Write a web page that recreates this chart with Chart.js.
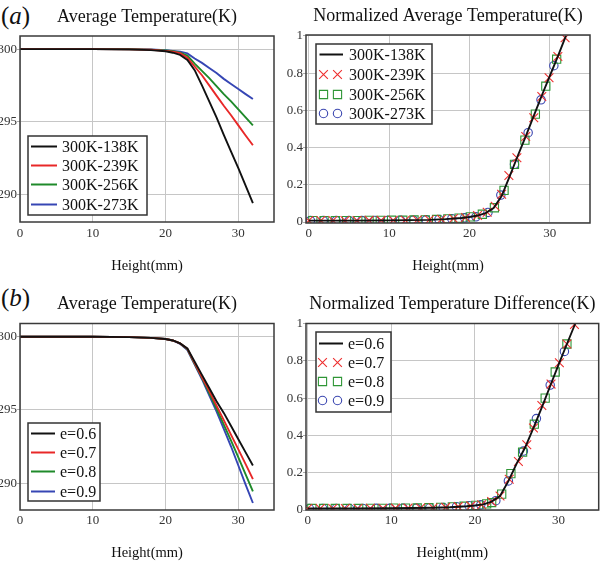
<!DOCTYPE html>
<html><head><meta charset="utf-8">
<script src="https://cdn.jsdelivr.net/npm/chart.js@4/dist/chart.umd.min.js"></script>
<style>
html,body{margin:0;padding:0;background:#fff;width:606px;height:562px;overflow:hidden}
.c{position:absolute}
.lab{position:absolute;font-family:'Liberation Serif','Times New Roman',serif;font-size:25px;color:#111;line-height:1}
</style></head><body>
<div class="lab" style="left:1px;top:3px">(<i>a</i>)</div>
<div class="lab" style="left:1px;top:285px">(<i>b</i>)</div>
<canvas id="cTL" class="c" width="303" height="281" style="left:0;top:0"></canvas>
<canvas id="cTR" class="c" width="326" height="281" style="left:280px;top:0"></canvas>
<canvas id="cBL" class="c" width="303" height="281" style="left:0;top:281px"></canvas>
<canvas id="cBR" class="c" width="326" height="281" style="left:280px;top:281px"></canvas>
<script>
// ---------- data ----------
const xTickVals = [0, 10, 20, 30];
const xTickLabels = ['0', '10', '20', '30'];
const tempTickVals = [290, 295, 300];
const tempTickLabels = ['290', '295', '300'];
const normTickVals = [0, 0.2, 0.4, 0.6, 0.8, 1];
const normTickLabels = ['0', '0.2', '0.4', '0.6', '0.8', '1'];

// (a) average temperature
const heightA = [0,5,10,15,18,20,21,22,23,24,25,26,27,28,29,30,31,32];
const avgT_138 = [300,300,300,299.98,299.93,299.85,299.75,299.6,299.25,298.55,297.5,296.4,295.3,294.1,292.95,291.8,290.6,289.4];
const avgT_239 = [300,300,300,299.98,299.95,299.88,299.82,299.72,299.4,298.8,298.2,297.5,296.8,296.1,295.45,294.75,294.05,293.38];
const avgT_256 = [300,300,300,299.99,299.96,299.9,299.85,299.76,299.55,299.0,298.5,298.0,297.45,296.9,296.4,295.85,295.3,294.75];
const avgT_273 = [300,300,300,299.99,299.97,299.92,299.88,299.82,299.7,299.35,299.05,298.7,298.35,297.95,297.6,297.25,296.9,296.56];

// (a) normalized average temperature
const normXA = [0,5,10,15,17,19,20,21,22,23,24,25,26,27,28,29,30,31,32];
const normA_138 = [0.008,0.008,0.009,0.012,0.016,0.022,0.027,0.035,0.048,0.075,0.14,0.245,0.355,0.46,0.57,0.68,0.785,0.89,1.0];
const mkXA_239 = [0,1.5,3,4.5,6,7.5,9,10.5,12,13.5,15,16.5,18,19.5,21,22.2,23.2,24.0,24.9,25.9,27.0,28.0,29.0,29.9,31.0,31.9];
const mkYA_239 = [0.008,0.008,0.008,0.008,0.008,0.009,0.009,0.01,0.01,0.011,0.012,0.015,0.019,0.024,0.035,0.053,0.085,0.15,0.25,0.345,0.46,0.56,0.675,0.775,0.89,0.99];
const mkXA_256 = [0.5,1.9,3.3,4.7,6.1,7.5,8.9,10.3,11.7,13.1,14.5,15.9,17.3,18.7,20.1,21.6,23.1,24.3,25.6,26.9,28.2,29.5,30.85];
const mkYA_256 = [0.008,0.008,0.008,0.008,0.008,0.009,0.009,0.01,0.01,0.011,0.012,0.014,0.017,0.021,0.028,0.042,0.077,0.17,0.31,0.44,0.58,0.73,0.875];
const mkXA_273 = [0.2,1.8,3.4,5.0,6.6,8.2,9.8,11.4,13.0,14.6,16.2,17.8,19.4,20.8,22.3,23.9,25.6,27.3,28.9,30.5];
const mkYA_273 = [0.008,0.008,0.008,0.008,0.008,0.009,0.009,0.01,0.01,0.012,0.014,0.018,0.023,0.028,0.052,0.145,0.31,0.48,0.657,0.84];

// (b) average temperature
const heightB = [0,5,10,15,18,20,21,22,23,24,25,26,27,28,29,30,31,32];
const avgE_06 = [300,300,300,299.98,299.93,299.85,299.75,299.55,299.2,298.3,297.4,296.5,295.6,294.8,293.9,293.0,292.1,291.2];
const avgE_07 = [300,300,300,299.98,299.93,299.85,299.75,299.55,299.18,298.2,297.25,296.3,295.3,294.3,293.3,292.3,291.3,290.27];
const avgE_08 = [300,300,300,299.98,299.93,299.85,299.75,299.55,299.15,298.15,297.2,296.15,295.1,294.0,292.9,291.75,290.6,289.43];
const avgE_09 = [300,300,300,299.98,299.93,299.85,299.75,299.52,299.1,298.1,297.1,296.0,294.9,293.7,292.5,291.2,289.9,288.64];

// (b) normalized temperature difference
const normXB = [0,5,10,15,17,19,20,21,22,23,24,25,26,27,28,29,30,31,32];
const normB_06 = [0.008,0.008,0.009,0.012,0.015,0.02,0.024,0.03,0.045,0.075,0.155,0.25,0.335,0.44,0.55,0.665,0.78,0.89,1.0];
const mkXB_07 = [0,1.5,3,4.5,6,7.5,9,10.5,12,13.5,15,16.5,18,19.5,20.8,22.0,23.0,24.1,25.2,26.2,27.0,28.0,29.1,30.1,31.0,31.9];
const mkYB_07 = [0.008,0.008,0.008,0.008,0.008,0.009,0.009,0.01,0.01,0.011,0.012,0.014,0.018,0.022,0.028,0.045,0.075,0.165,0.26,0.35,0.44,0.56,0.675,0.79,0.89,0.995];
const mkXB_08 = [0.5,1.9,3.3,4.7,6.1,7.5,8.9,10.3,11.7,13.1,14.5,15.9,17.3,18.7,20.1,21.4,22.0,23.2,24.3,25.7,27.1,28.4,29.6,31.0];
const mkYB_08 = [0.008,0.008,0.008,0.008,0.008,0.009,0.009,0.01,0.01,0.011,0.012,0.014,0.017,0.02,0.025,0.033,0.04,0.085,0.195,0.31,0.46,0.6,0.74,0.89];
const mkXB_09 = [0.2,1.8,3.4,5.0,6.6,8.2,9.8,11.4,13.0,14.6,16.2,17.8,19.3,20.7,22.5,24.0,25.8,27.35,29.0,30.7];
const mkYB_09 = [0.008,0.008,0.008,0.008,0.008,0.009,0.009,0.01,0.01,0.012,0.014,0.018,0.023,0.028,0.05,0.156,0.316,0.49,0.67,0.85];

const seriesNamesA = ['300K-138K', '300K-239K', '300K-256K', '300K-273K'];
const seriesNamesB = ['e=0.6', 'e=0.7', 'e=0.8', 'e=0.9'];

// ---------- style ----------
const BLACK = '#111111', RED = '#e82828', GREEN = '#1f8a2a', BLUE = '#3646b4';
const MRED = '#ee3030', MGREEN = '#2f9636', MBLUE = '#3a46b0';
const SERIF = "'Liberation Serif','Times New Roman',serif";
Chart.defaults.font.family = SERIF;
Chart.defaults.color = '#333';

const pts = (xs, ys) => xs.map((x, i) => ({x: x, y: ys[i]}));

const framePlugin = {
  id: 'frame',
  afterDatasetsDraw(chart) {
    const {ctx, chartArea: a} = chart;
    ctx.save();
    ctx.strokeStyle = '#3a3a3a';
    ctx.lineWidth = 1.5;
    ctx.strokeRect(a.left, a.top, a.right - a.left, a.bottom - a.top);
    ctx.restore();
  }
};

const boxLegend = {
  id: 'boxLegend',
  afterDraw(chart, args, o) {
    const {ctx, chartArea: a} = chart;
    const left = Math.round(a.left + o.dx);
    const top = Math.round(o.anchor === 'bl' ? a.bottom - o.dy - o.h : a.top + o.dy);
    ctx.save();
    ctx.fillStyle = '#ffffff';
    ctx.fillRect(left, top, o.w, o.h);
    ctx.strokeStyle = '#333';
    ctx.lineWidth = 1.5;
    ctx.strokeRect(left, top, o.w, o.h);
    chart.data.datasets.forEach((ds, i) => {
      const y = Math.round(top + o.first + i * o.step) + 0.5;
      if (ds.showLine !== false) {
        ctx.strokeStyle = ds.borderColor;
        ctx.lineWidth = 2;
        ctx.beginPath();
        ctx.moveTo(left + o.s0, y);
        ctx.lineTo(left + o.s1, y);
        ctx.stroke();
      } else {
        [o.m0, o.m1].forEach(mx => {
          ctx.strokeStyle = ds.pointBorderColor;
          ctx.fillStyle = 'rgba(0,0,0,0)';
          ctx.lineWidth = 1.1;
          Chart.helpers.drawPoint(ctx, {pointStyle: ds.pointStyle, radius: ds.pointRadius, rotation: 0, borderWidth: 1.1}, left + mx + 0.5, y);
        });
      }
      ctx.fillStyle = '#111';
      ctx.font = o.fontSize + 'px ' + SERIF;
      ctx.textBaseline = 'middle';
      ctx.textAlign = 'left';
      ctx.fillText(ds.label, left + o.tx, y + 1);
    });
    ctx.restore();
  }
};

function xScale(min, max, h, tickPad, titlePad) {
  return {
    type: 'linear', min: min, max: max,
    afterBuildTicks: s => { s.ticks = xTickVals.map(v => ({value: v})); },
    afterFit: s => { s.height = h; },
    grid: {color: '#c6c6c6', lineWidth: 1, drawTicks: false},
    border: {display: false},
    ticks: {padding: tickPad, color: '#333', font: {size: 13}, maxRotation: 0, autoSkip: false,
      callback: (v, i) => xTickLabels[i]},
    title: {display: true, text: 'Height(mm)', color: '#111', font: {size: 14.5}, padding: {top: 0, bottom: titlePad}}
  };
}
function yScale(min, max, vals, labels, w) {
  return {
    type: 'linear', min: min, max: max,
    afterBuildTicks: s => { s.ticks = vals.map(v => ({value: v})); },
    afterFit: s => { s.width = w; },
    grid: {color: '#c6c6c6', lineWidth: 1, drawTicks: true, tickLength: 3, tickColor: '#aaaaaa'},
    border: {display: false},
    ticks: {padding: 0, color: '#333', font: {size: 13}, autoSkip: false, callback: (v, i) => labels[i]}
  };
}
function lineDs(label, xs, ys, color) {
  return {label: label, data: pts(xs, ys), borderColor: color, backgroundColor: color,
    borderWidth: 1.9, pointRadius: 0, tension: 0, showLine: true};
}
function markDs(label, xs, ys, color, style, r) {
  return {label: label, data: pts(xs, ys), showLine: false, pointStyle: style, pointRadius: r,
    pointBorderColor: color, borderColor: color, pointBackgroundColor: 'rgba(0,0,0,0)',
    backgroundColor: 'rgba(0,0,0,0)', pointBorderWidth: 1.1};
}
function makeChart(id, datasets, title, titlePad, xs, ys, padRight, legend) {
  return new Chart(document.getElementById(id), {
    type: 'scatter',
    data: {datasets: datasets},
    options: {
      responsive: false, animation: false, devicePixelRatio: 1,
      layout: {padding: {left: 0, right: padRight, top: 0, bottom: 0}},
      scales: {x: xs, y: ys},
      plugins: {
        legend: {display: false}, tooltip: {enabled: false},
        title: {display: true, text: title, fullSize: false, color: '#111',
          font: {size: 18, weight: 'normal'}, padding: titlePad},
        boxLegend: legend
      }
    },
    plugins: [framePlugin, boxLegend]
  });
}

// (a) left
makeChart('cTL', [
  lineDs(seriesNamesA[0], heightA, avgT_138, BLACK),
  lineDs(seriesNamesA[1], heightA, avgT_239, RED),
  lineDs(seriesNamesA[2], heightA, avgT_256, GREEN),
  lineDs(seriesNamesA[3], heightA, avgT_273, BLUE)
], 'Average Temperature(K)', {top: 6, bottom: 8.4},
  xScale(0, 34.9, 59, 4, 6), yScale(288.1, 300.9, tempTickVals, tempTickLabels, 20), 29,
  {anchor: 'bl', dx: 8, dy: 7.5, w: 119, h: 79, first: 9.5, step: 19.4, s0: 3, s1: 29, tx: 34, fontSize: 16});

// (a) right
makeChart('cTR', [
  lineDs(seriesNamesA[0], normXA, normA_138, BLACK),
  markDs(seriesNamesA[1], mkXA_239, mkYA_239, MRED, 'crossRot', 6.2),
  markDs(seriesNamesA[2], mkXA_256, mkYA_256, MGREEN, 'rect', 5.8),
  markDs(seriesNamesA[3], mkXA_273, mkYA_273, MBLUE, 'circle', 4.2)
], 'Normalized Average Temperature(K)', {top: 5, bottom: 8.4},
  xScale(-0.35, 35, 58, 3, 6), yScale(-0.005, 1.005, normTickVals, normTickLabels, 26), 16,
  {anchor: 'tl', dx: 10, dy: 8.5, w: 116, h: 80, first: 10, step: 19.8, s0: 3.5, s1: 27, m0: 7, m1: 21, tx: 33, fontSize: 16});

// (b) left
makeChart('cBL', [
  lineDs(seriesNamesB[0], heightB, avgE_06, BLACK),
  lineDs(seriesNamesB[1], heightB, avgE_07, RED),
  lineDs(seriesNamesB[2], heightB, avgE_08, GREEN),
  lineDs(seriesNamesB[3], heightB, avgE_09, BLUE)
], 'Average Temperature(K)', {top: 12.5, bottom: 8.4},
  xScale(0, 34.9, 52, 3, 0), yScale(288.16, 300.91, tempTickVals, tempTickLabels, 20), 29,
  {anchor: 'bl', dx: 8, dy: 9, w: 72, h: 78, first: 10, step: 19.2, s0: 3, s1: 27, tx: 32, fontSize: 16});

// (b) right
makeChart('cBR', [
  lineDs(seriesNamesB[0], normXB, normB_06, BLACK),
  markDs(seriesNamesB[1], mkXB_07, mkYB_07, MRED, 'crossRot', 6.2),
  markDs(seriesNamesB[2], mkXB_08, mkYB_08, MGREEN, 'rect', 5.8),
  markDs(seriesNamesB[3], mkXB_09, mkYB_09, MBLUE, 'circle', 4.2)
], 'Normalized Temperature Difference(K)', {top: 12.5, bottom: 8.4},
  xScale(-0.2, 34.8, 52, 3, 0), yScale(0, 1, normTickVals, normTickLabels, 26), 1,
  {anchor: 'tl', dx: 10, dy: 8, w: 75, h: 80, first: 11, step: 19.1, s0: 3, s1: 27, m0: 6, m1: 21, tx: 32, fontSize: 16});
</script>
</body></html>
